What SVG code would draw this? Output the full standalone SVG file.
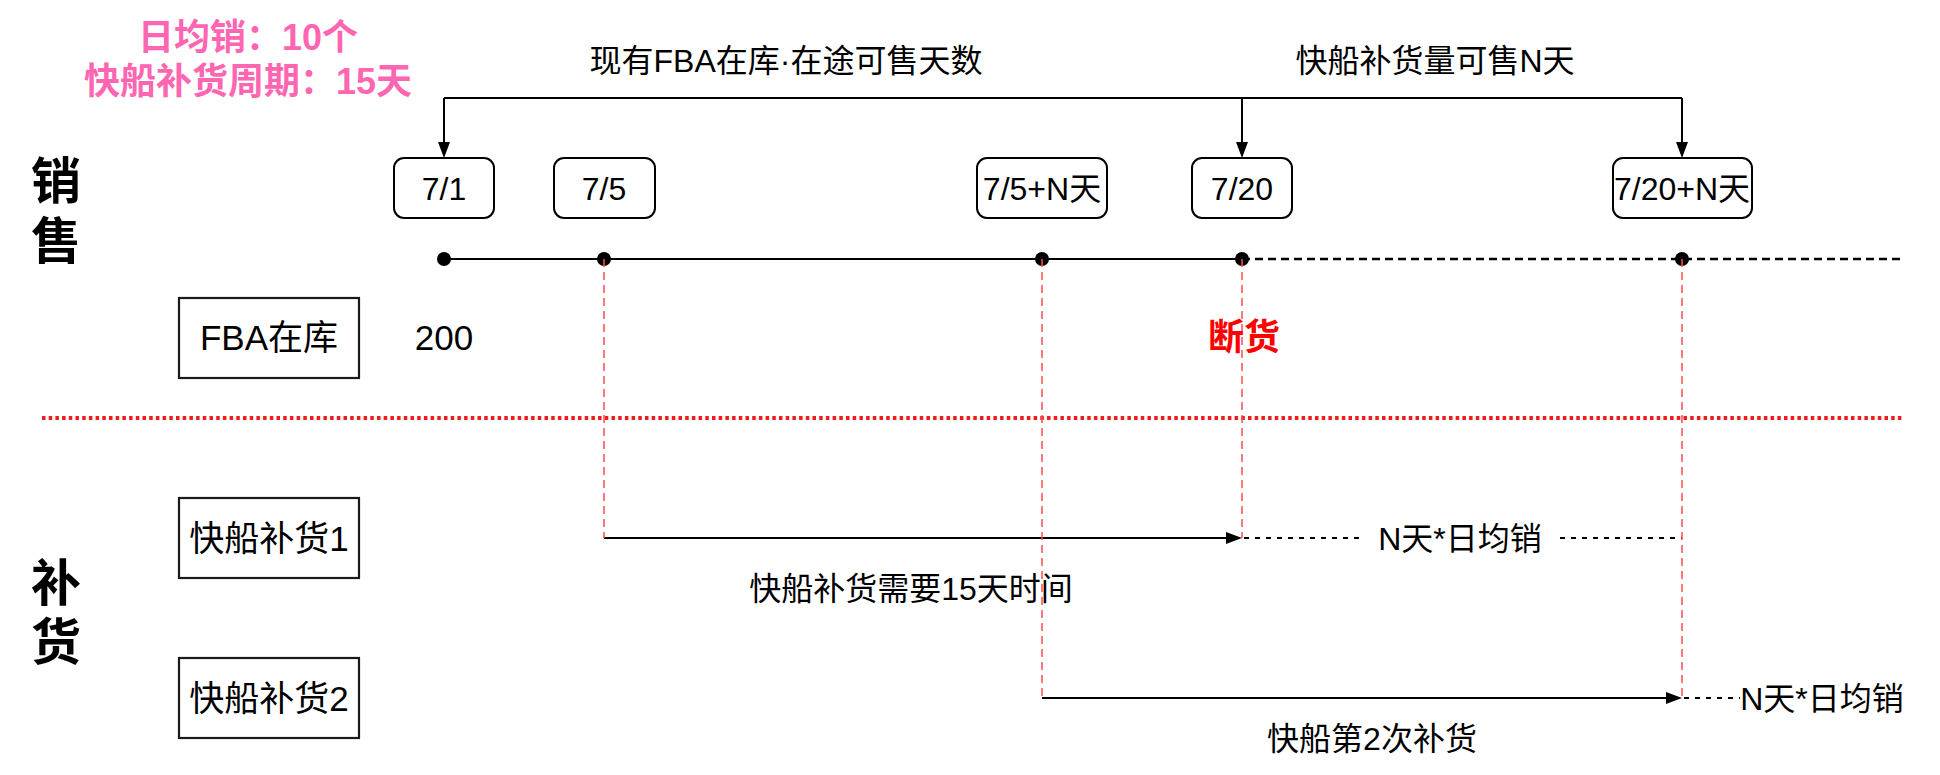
<svg xmlns="http://www.w3.org/2000/svg" width="1940" height="775" viewBox="0 0 1940 775">
<style>
text{font-family:"Liberation Sans","Noto Sans CJK SC",sans-serif;fill:#000}
.t32{font-size:32px;text-anchor:middle}
.t35{font-size:35px;text-anchor:middle}
.big{font-size:50px;font-weight:bold;text-anchor:middle}
.pink{font-size:36px;font-weight:bold;fill:#FF66B2;text-anchor:middle}
.date{fill:#fff;stroke:#000;stroke-width:2}
.box{fill:#fff;stroke:#1a1a1a;stroke-width:2.2}
.ln{fill:none;stroke:#000;stroke-width:2}
.dash{fill:none;stroke:#000;stroke-width:2.5;stroke-dasharray:8 5}
.dash2{fill:none;stroke:#000;stroke-width:2;stroke-dasharray:5 6}
.red{fill:none;stroke:#FF4D4D;stroke-width:1.5;stroke-dasharray:8 5}
.sep{fill:none;stroke:#EE1C1C;stroke-width:4;stroke-dasharray:3.5 3.2}
</style>
<defs>
<marker id="arr" viewBox="0 0 16 12" markerWidth="16" markerHeight="12" refX="0" refY="6" markerUnits="userSpaceOnUse" orient="auto">
<path d="M0,0 L16,6 L0,12 z" fill="#000"/>
</marker>
</defs>
<rect width="1940" height="775" fill="#fff"/>

<g id="info">
<text class="pink" x="248" y="50">日均销：10个</text>
<text class="pink" x="248" y="94">快船补货周期：15天</text>
</g>

<g id="lane-sales">
<text class="big" x="56" y="199">销</text>
<text class="big" x="56" y="259">售</text>
</g>
<g id="lane-replenish">
<text class="big" x="56" y="601">补</text>
<text class="big" x="56" y="660">货</text>
</g>

<g id="connectors">
<path class="sep" d="M42,418 L1902,418"/>
<path class="ln" d="M444,98 L1682,98"/>
<path class="ln" d="M444,98 L444,142" marker-end="url(#arr)"/>
<path class="ln" d="M1242,98 L1242,142" marker-end="url(#arr)"/>
<path class="ln" d="M1682,98 L1682,142" marker-end="url(#arr)"/>
<path class="ln" d="M444,259 L1242,259"/>
<path class="dash" d="M1242,259 L1905,259"/>
<path class="ln" d="M604,538 L1226,538" marker-end="url(#arr)"/>
<path class="ln" d="M1042,698 L1666,698" marker-end="url(#arr)"/>
<path class="dash2" d="M1244,538 L1364,538"/>
<path class="dash2" d="M1560,538 L1682,538"/>
<path class="dash2" d="M1684,698 L1740,698"/>
<g fill="#000">
<circle cx="444" cy="259" r="7"/>
<circle cx="604" cy="259" r="7"/>
<circle cx="1042" cy="259" r="7"/>
<circle cx="1242" cy="259" r="7"/>
<circle cx="1682" cy="259" r="7"/>
</g>
<path class="red" d="M604,259 L604,538"/>
<path class="red" d="M1042,259 L1042,698"/>
<path class="red" d="M1242,259 L1242,538"/>
<path class="red" d="M1682,259 L1682,698"/>
</g>

<g id="label-stock-days"><text class="t32" x="786" y="72">现有FBA在库·在途可售天数</text></g>
<g id="label-ship-days"><text class="t32" x="1435" y="72">快船补货量可售N天</text></g>

<g id="d71"><rect class="date" x="394" y="158" width="100" height="60" rx="10"/><text class="t32" x="444" y="200">7/1</text></g>
<g id="d75"><rect class="date" x="554" y="158" width="101" height="60" rx="10"/><text class="t32" x="604" y="200">7/5</text></g>
<g id="d75n"><rect class="date" x="977" y="158" width="130" height="60" rx="10"/><text class="t32" x="1042" y="200">7/5+N天</text></g>
<g id="d720"><rect class="date" x="1192" y="158" width="100" height="60" rx="10"/><text class="t32" x="1242" y="200">7/20</text></g>
<g id="d720n"><rect class="date" x="1613" y="158" width="139" height="60" rx="10"/><text class="t32" x="1682" y="200">7/20+N天</text></g>

<g id="fba"><rect class="box" x="179" y="298" width="180" height="80"/><text class="t35" x="269" y="350">FBA在库</text></g>
<g id="stock200"><text class="t35" x="444" y="350">200</text></g>
<g id="stockout"><text x="1244" y="350" style="font-size:36px;font-weight:bold;fill:#FF0000;text-anchor:middle">断货</text></g>

<g id="ship1"><rect class="box" x="179" y="498" width="180" height="80"/><text class="t35" x="269" y="551">快船补货1</text></g>
<g id="ship2"><rect class="box" x="179" y="658" width="180" height="80"/><text class="t35" x="269" y="711">快船补货2</text></g>

<g id="label-n1"><text class="t32" x="1460" y="550">N天*日均销</text></g>
<g id="label-15"><text class="t32" x="911" y="600">快船补货需要15天时间</text></g>
<g id="label-n2"><text class="t32" x="1822" y="710">N天*日均销</text></g>
<g id="label-2nd"><text class="t32" x="1372" y="750">快船第2次补货</text></g>
</svg>
